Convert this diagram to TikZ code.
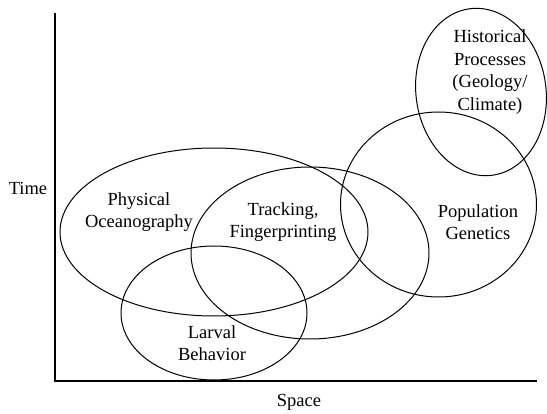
\documentclass[tikz,border=0pt]{standalone}
\usepackage{fontspec}
\setmainfont{Liberation Serif}
\usetikzlibrary{shapes.geometric}
\begin{document}
\begin{tikzpicture}[x=0.5pt,y=0.5pt,
  field/.style={draw=black,ellipse,line width=0.5pt,inner sep=0pt,fill=none},
  lbl/.style={align=center,inner sep=0pt,font=\fontsize{9.25}{11.25}\selectfont},
  axis/.style={line width=1pt,line cap=butt}]
\useasboundingbox (0,0) rectangle (547,413);
% axes
\coordinate (top) at (55,400);
\coordinate (origin) at (55,32);
\coordinate (right) at (537,32);
\draw[axis] (top) -- (origin) -- (right);
\node[lbl] (time) at (28,225) {Time};
\node[lbl] (space) at (299,11) {Space};
% research fields (sizes in pt: half the drawing units)
\node[field,minimum width=154pt,minimum height=84pt] (po) at (214,181) {};
\node[field,minimum width=119pt,minimum height=86pt] (tf) at (310,160) {};
\node[field,minimum width=93pt,minimum height=67pt] (lb) at (214,100) {};
\node[field,minimum width=98pt,minimum height=92.5pt] (pg) at (438.5,208.5) {};
\node[field,minimum width=65pt,minimum height=84pt,rotate=8] (hp) at (481,321) {};
% labels
\node[lbl] (poT) at (139,201) {Physical\\Oceanography};
\node[lbl] (tfT) at (283,191) {Tracking,\\Fingerprinting};
\node[lbl] (lbT) at (212,70) {Larval\\Behavior};
\node[lbl] (pgT) at (478,191) {Population\\Genetics};
\node[lbl] (hpT) at (490,341) {Historical\\Processes\\(Geology/\\Climate)};
\end{tikzpicture}
\end{document}
